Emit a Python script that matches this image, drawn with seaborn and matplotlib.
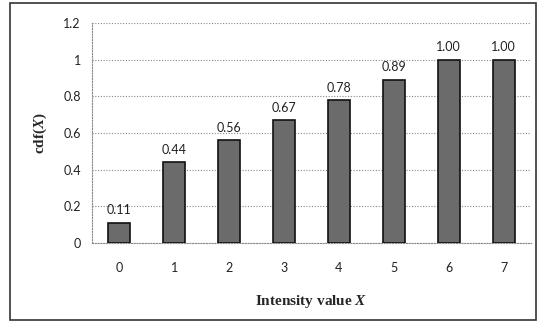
import matplotlib
matplotlib.use("Agg")
import matplotlib.pyplot as plt
import seaborn as sns
import pandas as pd
from matplotlib.patches import Rectangle

categories = ["0", "1", "2", "3", "4", "5", "6", "7"]
values = [0.11, 0.44, 0.56, 0.67, 0.78, 0.89, 1.00, 1.00]
labels = ["0.11", "0.44", "0.56", "0.67", "0.78", "0.89", "1.00", "1.00"]
yticks = [0, 0.2, 0.4, 0.6, 0.8, 1, 1.2]
ytick_labels = ["0", "0.2", "0.4", "0.6", "0.8", "1", "1.2"]

sns.set_style("white")
plt.rcParams['font.family'] = ['Lato', 'DejaVu Sans']
plt.rcParams['mathtext.fontset'] = 'custom'
plt.rcParams['mathtext.it'] = 'Liberation Serif:italic:bold'
plt.rcParams['mathtext.rm'] = 'Liberation Serif:bold'

df = pd.DataFrame({"x": categories, "y": values})

fig = plt.figure(figsize=(5.38, 3.23), dpi=100)
ax = fig.add_axes([92/538, 1-243/323, (531-92)/538, (243-23)/323])

sns.barplot(data=df, x="x", y="y", ax=ax, color="#6b6b6b", width=0.4,
            edgecolor="#111111", linewidth=1.2, saturation=1, zorder=3)

ax.set_ylim(0, 1.2)
ax.set_xlim(-0.5, 7.5)
ax.set_yticks(yticks)
ax.set_yticklabels(ytick_labels)
ax.yaxis.grid(True, linestyle=(0, (1, 1.5)), color="#888888", linewidth=0.8, zorder=0)
for s in ["top", "right"]:
    ax.spines[s].set_visible(False)
for s in ["left", "bottom"]:
    ax.spines[s].set_color("#888888")
    ax.spines[s].set_linestyle((0, (1, 1.5)))
    ax.spines[s].set_linewidth(0.8)
ax.tick_params(axis="y", labelsize=9, colors="#222222", length=0, pad=8)
ax.tick_params(axis="x", labelsize=9, colors="#222222", length=0, pad=14)

for i, (v, t) in enumerate(zip(values, labels)):
    ax.text(i, v + 0.035, t, ha="center", va="bottom", fontsize=9, color="#222222")

ax.set_xlabel("Intensity value $X$", fontfamily="Liberation Serif",
              fontweight="bold", fontsize=11, labelpad=13)
ax.set_ylabel("cdf($X$)", fontfamily="Liberation Serif",
              fontweight="bold", fontsize=11, labelpad=10)

fig.patches.append(Rectangle((10/538, 3/323), (536-10)/538, (320-3)/323,
                             transform=fig.transFigure, fill=False,
                             edgecolor="#333333", linewidth=1.2))

fig.savefig("out.png", dpi=100)
